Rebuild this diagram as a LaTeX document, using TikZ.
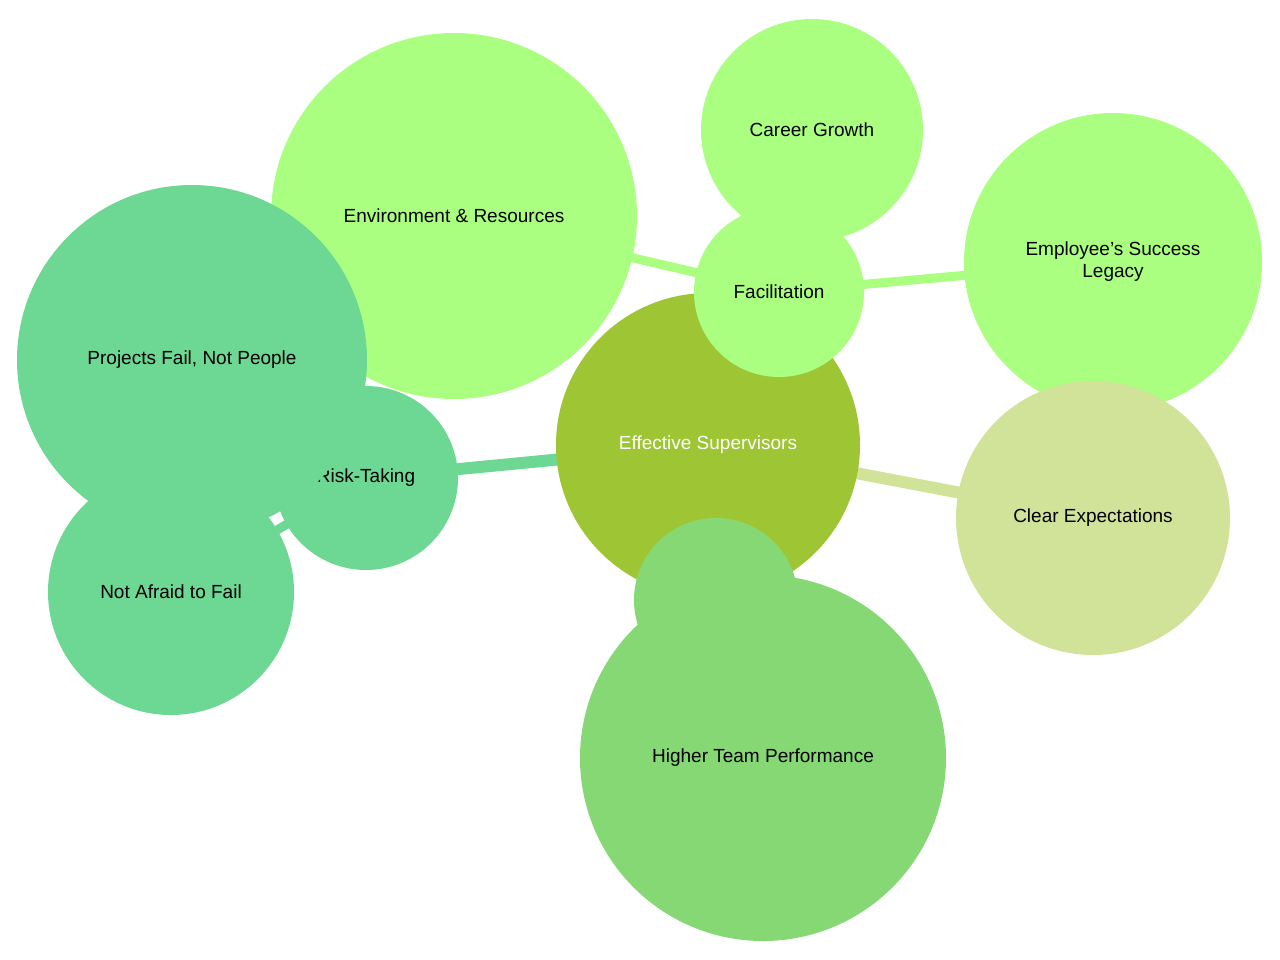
\documentclass[tikz,border=0pt]{standalone}
\usepackage{fontspec}
\setmainfont{Liberation Sans}
\begin{document}
\begin{tikzpicture}[x=1pt,y=-1pt,
  bub/.style={circle,inner sep=0pt,align=center,font=\fontsize{19}{22}\selectfont},
  edge/.style={line width=#1}]
\definecolor{root}{HTML}{9EC634}
\definecolor{lime}{HTML}{AAFF80}
\definecolor{sage}{HTML}{D0E398}
\definecolor{mint}{HTML}{6DD893}
\definecolor{leaf}{HTML}{85D874}
\useasboundingbox (0,0) rectangle (1280,959);
% coordinates
\coordinate (cR) at (708,445);
\coordinate (cF) at (779,292);
\coordinate (cE) at (454,216);
\coordinate (cC) at (812,130);
\coordinate (cL) at (1113,262);
\coordinate (cX) at (1093,518);
\coordinate (cK) at (366,478);
\coordinate (cP) at (192,360);
\coordinate (cN) at (171,592);
\coordinate (cI) at (716,600);
\coordinate (cH) at (763,758);
% edges
\draw[lime,edge=11] (cR) -- (cF);
\draw[lime,edge=9] (cF) -- (cE);
\draw[lime,edge=9] (cF) -- (cC);
\draw[lime,edge=9] (cF) -- (cL);
\draw[sage,edge=12] (cR) -- (cX);
\draw[mint,edge=12] (cR) -- (cK);
\draw[mint,edge=9] (cK) -- (cP);
\draw[mint,edge=9] (cK) -- (cN);
\draw[leaf,edge=12] (cR) -- (cI);
\draw[leaf,edge=9] (cI) -- (cH);
% nodes
\node[bub,fill=root,text=white,minimum size=304pt] (R) at (cR) {Effective Supervisors};
\node[bub,fill=lime,minimum size=222pt] (C) at (cC) {Career Growth};
\node[bub,fill=lime,minimum size=366pt] (E) at (cE) {Environment \& Resources};
\node[bub,fill=lime,minimum size=298pt] (L) at (cL) {Employee's Success\\Legacy};
\node[bub,fill=lime,minimum size=170pt] (F) at (cF) {Facilitation};
\node[bub,fill=sage,minimum size=274pt] (X) at (cX) {Clear Expectations};
\node[bub,fill=mint,minimum size=184pt] (K) at (cK) {Risk-Taking};
\node[bub,fill=mint,minimum size=246pt] (N) at (cN) {Not Afraid to Fail};
\node[bub,fill=mint,minimum size=350pt] (P) at (cP) {Projects Fail, Not People};
\node[bub,fill=leaf,minimum size=164pt] (I) at (cI) {Impact};
\node[bub,fill=leaf,minimum size=366pt] (H) at (cH) {Higher Team Performance};
\end{tikzpicture}
\end{document}
